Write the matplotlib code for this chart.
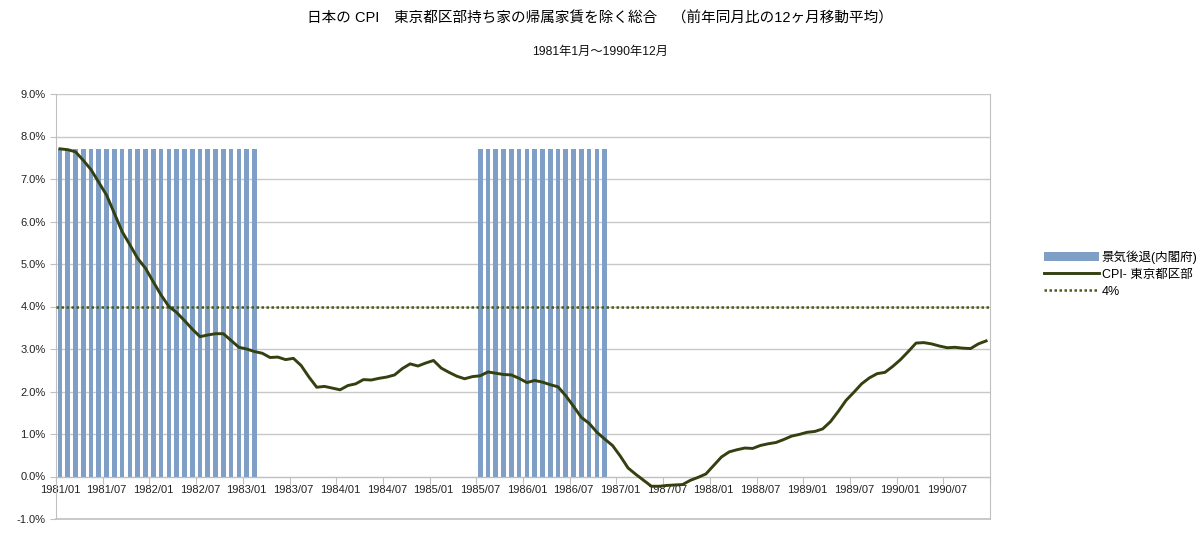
import matplotlib.pyplot as plt
from matplotlib.ticker import FixedLocator, FuncFormatter
import numpy as np

plt.rcParams['font.family'] = ['Liberation Sans', 'Noto Sans CJK JP', 'DejaVu Sans']

# Monthly data, 1981/01 - 1990/12 (12-month moving average of YoY change, %)
cpi_tokyo = [
    7.71, 7.69, 7.64, 7.44, 7.22, 6.92, 6.62, 6.19, 5.76, 5.45, 5.13, 4.90,
    4.58, 4.27, 4.00, 3.86, 3.67, 3.47, 3.29, 3.33, 3.36, 3.36, 3.20, 3.04,
    3.00, 2.94, 2.90, 2.80, 2.81, 2.75, 2.78, 2.61, 2.34, 2.10, 2.12, 2.08,
    2.04, 2.14, 2.18, 2.28, 2.27, 2.31, 2.34, 2.39, 2.54, 2.65, 2.60, 2.67,
    2.73, 2.55, 2.45, 2.36, 2.30, 2.35, 2.37, 2.46, 2.43, 2.40, 2.39, 2.31,
    2.21, 2.26, 2.22, 2.16, 2.11, 1.90, 1.65, 1.39, 1.25, 1.04, 0.88, 0.73,
    0.48, 0.20, 0.05, -0.09, -0.23, -0.23, -0.21, -0.20, -0.19, -0.09, -0.02, 0.06,
    0.26, 0.46, 0.58, 0.63, 0.67, 0.66, 0.73, 0.77, 0.80, 0.87, 0.95, 0.99,
    1.04, 1.06, 1.12, 1.29, 1.53, 1.79, 1.98, 2.18, 2.32, 2.42, 2.45, 2.59,
    2.75, 2.94, 3.14, 3.15, 3.12, 3.07, 3.03, 3.04, 3.02, 3.01, 3.12, 3.19,
]
months = [f"{y}/{m:02d}" for y in range(1981, 1991) for m in range(1, 13)]

# Recessions (Cabinet Office), shown as bars of fixed height
recession_periods = [("1981/01", "1983/02"), ("1985/07", "1986/11")]
recession_height = 7.7
threshold = 4.0

recession = []
for m in months:
    inside = any(a <= m <= b for a, b in recession_periods)
    recession.append(recession_height if inside else np.nan)

x = np.arange(len(months)) + 0.5

fig = plt.figure(figsize=(12, 5.44), dpi=100)
ax = fig.add_axes([56 / 1200, 1 - 519 / 544, 934 / 1200, 425 / 544])

bars = ax.bar(x, recession, width=0.6, color='#7f9fc6', label='景気後退(内閣府)', zorder=2)
line, = ax.plot(x, cpi_tokyo, color='#344010', linewidth=2.1, label='CPI- 東京都区部', zorder=4)
dots, = ax.plot([0, len(months)], [threshold, threshold], color='#4a5a1c', linewidth=1.8,
                linestyle=(0, (1, 1)), label='4%', zorder=3)

ax.set_xlim(0, len(months))
ax.set_ylim(-1, 9)
ax.set_yticks(np.arange(-1, 10, 1))
ax.yaxis.set_major_formatter(FuncFormatter(lambda v, p: f"{v:.1f}%"))
ax.grid(axis='y', color='#c8c8c8', linewidth=1, zorder=0)

# x axis crosses at 0%, ticks on category boundaries, labels centred in category
ax.spines['bottom'].set_position(('data', 0))
ax.spines['bottom'].set_color('#c0c0c0')
for s in ['left', 'right']:
    ax.spines[s].set_color('#c0c0c0')
ax.spines['top'].set_visible(False)
ax.xaxis.set_major_locator(FixedLocator(np.arange(0, len(months) + 1, 6)))
ax.xaxis.set_major_formatter(FuncFormatter(lambda v, p: ''))
ax.xaxis.set_minor_locator(FixedLocator(np.arange(0, len(months), 6) + 0.5))
ax.xaxis.set_minor_formatter(FuncFormatter(lambda v, p: months[int(v)]))
ax.tick_params(axis='x', which='major', length=5, color='#c0c0c0')
ax.tick_params(axis='x', which='minor', length=0, pad=6, labelsize=8, labelcolor='#222222')
ax.tick_params(axis='y', length=4, color='#c0c0c0', labelsize=8, labelcolor='#222222')
ax.axhline(-1, color='#c0c0c0', linewidth=1.2, zorder=1, clip_on=False)

fig.text(0.5, 1 - 18 / 544, '日本の CPI　東京都区部持ち家の帰属家賃を除く総合　（前年同月比の12ヶ月移動平均）',
         ha='center', va='center', fontsize=10.5, color='#000000')
fig.text(0.5, 1 - 52 / 544, '1981年1月～1990年12月', ha='center', va='center',
         fontsize=8.8, color='#111111')

ax.legend(handles=[bars, line, dots], loc='upper left',
          bbox_to_anchor=(1038 / 1200, 1 - 244 / 544),
          bbox_transform=fig.transFigure, frameon=False, fontsize=9,
          handlelength=4.4, handletextpad=0.2, labelspacing=0.4, borderpad=0)

fig.savefig('out.png', dpi=100)
